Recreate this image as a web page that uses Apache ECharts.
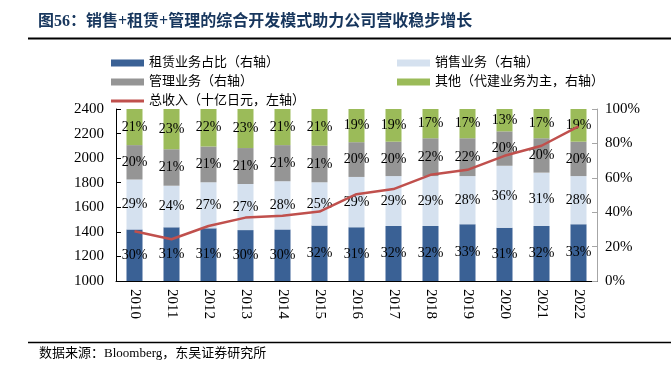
<!DOCTYPE html>
<html>
<head>
<meta charset="utf-8">
<title>营收结构</title>
<script src="https://cdn.jsdelivr.net/npm/echarts@6/dist/echarts.min.js"></script>
<style>
  html, body { margin: 0; padding: 0; background: #fff; }
  #main { width: 671px; height: 365px; }
</style>
</head>
<body>
<div id="main"></div>
<script>
// 年份
var years = ['2010', '2011', '2012', '2013', '2014', '2015', '2016', '2017', '2018', '2019', '2020', '2021', '2022']
// 各业务占比（%，右轴）
var rentShare = [30, 31.2, 30.6, 29.6, 30, 32.2, 31.3, 32, 32, 33, 31, 32, 33]
var salesShare = [29, 24.2, 26.8, 26.8, 28, 25.2, 29.2, 29, 29, 28, 36, 31, 28]
var mgmtShare = [20, 21.2, 20.8, 20.9, 21, 21.3, 20.2, 20, 22, 22, 20, 20, 20]
var otherShare = [21, 23.4, 21.8, 22.7, 21, 21.3, 19.3, 19, 17, 17, 13, 17, 19]
// 总收入（十亿日元，左轴）
var totalRevenue = [1405, 1340, 1448, 1516, 1532, 1565, 1707, 1748, 1864, 1905, 2019, 2101, 2258]

var serif = '"Liberation Serif", "Times New Roman", serif'
var cjk = '"Liberation Serif", "Noto Sans CJK SC", serif'

var chart = echarts.init(document.getElementById('main'))

function barSeries (name, data, color) {
  return {
    name: name,
    type: 'bar',
    stack: 'share',
    yAxisIndex: 1,
    barWidth: 16,
    itemStyle: { color: color },
    label: {
      show: true,
      position: 'inside',
      color: '#000',
      fontFamily: serif,
      fontSize: 14,
      formatter: function (p) {
        return Math.round(p.value) + '%'
      }
    },
    data: data
  }
}

var legendText = { color: '#000', fontFamily: cjk, fontSize: 13, lineHeight: 14 }

var option = {
  animation: false,
  backgroundColor: '#fff',
  graphic: [
    {
      type: 'text',
      left: 38,
      top: 14,
      style: {
        text: '图56：销售+租赁+管理的综合开发模式助力公司营收稳步增长',
        fill: '#17365d',
        font: 'bold 16px ' + cjk
      }
    },
    {
      type: 'line',
      shape: { x1: 28, y1: 38.5, x2: 671, y2: 38.5 },
      style: { stroke: '#000', lineWidth: 2 }
    },
    {
      type: 'line',
      shape: { x1: 28, y1: 342.5, x2: 671, y2: 342.5 },
      style: { stroke: '#000', lineWidth: 1.5 }
    },
    {
      type: 'text',
      left: 39,
      top: 347,
      style: {
        text: '数据来源：Bloomberg，东吴证券研究所',
        fill: '#000',
        font: '13px ' + cjk
      }
    }
  ],
  legend: [
    {
      left: 106,
      top: 51,
      orient: 'vertical',
      itemWidth: 33,
      itemHeight: 7,
      itemGap: 5,
      textStyle: legendText,
      data: [
        { name: '租赁业务占比（右轴）', icon: 'rect' },
        { name: '管理业务（右轴）', icon: 'rect' },
        // 图例里只画一条红线
        { name: '总收入（十亿日元，左轴）', icon: 'path://M0,0L33,0L33,3L0,3Z', itemStyle: { color: '#c0504d' } }
      ]
    },
    {
      left: 392,
      top: 51,
      orient: 'vertical',
      itemWidth: 33,
      itemHeight: 7,
      itemGap: 5,
      textStyle: legendText,
      data: [
        { name: '销售业务（右轴）', icon: 'rect' },
        { name: '其他（代建业务为主，右轴）', icon: 'rect' }
      ]
    }
  ],
  grid: {
    left: 116,
    right: 74,
    top: 109,
    bottom: 84
  },
  xAxis: {
    type: 'category',
    data: years,
    axisLine: { lineStyle: { color: '#000', width: 1 } },
    axisTick: { inside: true, length: 5, lineStyle: { color: '#000' } },
    axisLabel: {
      rotate: -90,
      margin: 8,
      color: '#000',
      fontFamily: serif,
      fontSize: 15
    }
  },
  yAxis: [
    {
      type: 'value',
      min: 1000,
      max: 2400,
      interval: 200,
      splitLine: { show: false },
      axisLine: { show: true, lineStyle: { color: '#000' } },
      axisTick: { show: true, inside: true, length: 5, lineStyle: { color: '#000' } },
      axisLabel: {
        color: '#000',
        fontFamily: serif,
        fontSize: 15,
        margin: 12,
        formatter: function (v) {
          return String(v)
        }
      }
    },
    {
      type: 'value',
      min: 0,
      max: 100,
      interval: 20,
      splitLine: { show: false },
      axisLine: { show: true, lineStyle: { color: '#a6a6a6' } },
      axisTick: { show: true, inside: true, length: 5, lineStyle: { color: '#a6a6a6' } },
      axisLabel: { color: '#000', fontFamily: serif, fontSize: 15, margin: 8, formatter: '{value}%' }
    }
  ],
  series: [
    barSeries('租赁业务占比（右轴）', rentShare, '#3a6195'),
    barSeries('销售业务（右轴）', salesShare, '#d5e1ef'),
    barSeries('管理业务（右轴）', mgmtShare, '#959595'),
    barSeries('其他（代建业务为主，右轴）', otherShare, '#9bbb59'),
    {
      name: '总收入（十亿日元，左轴）',
      type: 'line',
      yAxisIndex: 0,
      symbol: 'none',
      z: 5,
      lineStyle: { color: '#c0504d', width: 2.5 },
      itemStyle: { color: '#c0504d' },
      data: totalRevenue
    }
  ]
}

chart.setOption(option)
</script>
</body>
</html>
